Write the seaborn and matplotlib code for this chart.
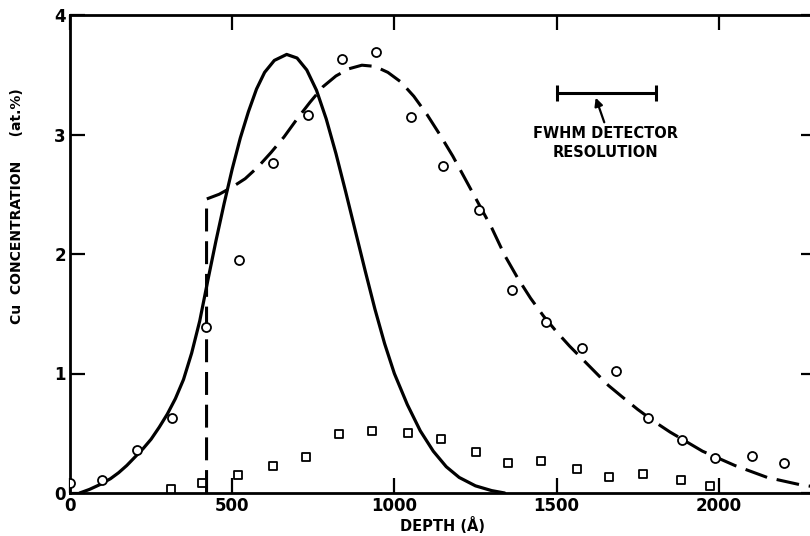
"""
Cu depth profile: measured points and fitted profiles
"""

import pandas as pd
import seaborn as sns
import matplotlib.pyplot as plt

# open circles
circle_depth = [0, 100, 206, 315, 420, 522, 627, 734, 839, 943, 1051, 1150,
                1261, 1364, 1467, 1578, 1684, 1782, 1886, 1990, 2103, 2200]
circle_conc = [0.08, 0.11, 0.36, 0.63, 1.39, 1.95, 2.76, 3.16, 3.63, 3.69, 3.15, 2.74,
               2.37, 1.70, 1.43, 1.21, 1.02, 0.63, 0.44, 0.29, 0.31, 0.25]

# open squares
square_depth = [311, 407, 518, 627, 727, 829, 930, 1042, 1144, 1252, 1351, 1451,
                1562, 1661, 1767, 1884, 1974]
square_conc = [0.03, 0.08, 0.15, 0.23, 0.30, 0.49, 0.52, 0.50, 0.45, 0.34, 0.25, 0.27,
               0.20, 0.13, 0.16, 0.11, 0.06]

# solid profile
solid_depth = [30, 60, 92, 125, 150, 175, 200, 225, 250, 275, 300, 325, 350, 375, 400,
               425, 450, 475, 500, 525, 550, 575, 600, 630, 668, 700, 730, 760, 790,
               820, 850, 880, 910, 940, 970, 1000, 1040, 1080, 1120, 1160, 1200, 1250,
               1300, 1340]
solid_conc = [0.0, 0.03, 0.07, 0.12, 0.17, 0.23, 0.30, 0.37, 0.45, 0.55, 0.66, 0.79,
              0.95, 1.17, 1.44, 1.78, 2.11, 2.42, 2.71, 2.97, 3.19, 3.38, 3.52, 3.62,
              3.67, 3.64, 3.54, 3.37, 3.13, 2.84, 2.52, 2.19, 1.86, 1.54, 1.25, 1.00,
              0.74, 0.52, 0.35, 0.22, 0.13, 0.06, 0.02, 0.0]

# dashed profile
dashed_depth = [421, 421, 460, 500, 540, 580, 620, 660, 700, 740, 780, 820, 860, 900,
                940, 980, 1020, 1060, 1100, 1140, 1180, 1220, 1260, 1300, 1340, 1380,
                1420, 1460, 1500, 1540, 1580, 1620, 1660, 1700, 1750, 1800, 1850, 1900,
                1950, 2000, 2050, 2100, 2150, 2200, 2250, 2300]
dashed_conc = [0.0, 2.46, 2.50, 2.56, 2.63, 2.73, 2.85, 2.98, 3.13, 3.27, 3.40, 3.49,
               3.55, 3.58, 3.57, 3.52, 3.44, 3.32, 3.17, 3.00, 2.82, 2.62, 2.42, 2.22,
               1.99, 1.80, 1.63, 1.48, 1.35, 1.23, 1.12, 1.01, 0.90, 0.81, 0.70, 0.60,
               0.51, 0.43, 0.35, 0.29, 0.23, 0.18, 0.13, 0.10, 0.07, 0.05]

fwhm_x = [1500, 1806]
fwhm_y = 3.35

x_ticks = [0, 500, 1000, 1500, 2000]
y_ticks = [0, 1, 2, 3, 4]

FONT = ["Liberation Sans Narrow", "DejaVu Sans"]

sns.set_style("ticks")
plt.rcParams["font.family"] = FONT
for key in ["text.color", "axes.labelcolor", "xtick.color", "ytick.color",
            "axes.edgecolor"]:
    plt.rcParams[key] = "black"

fig = plt.figure(figsize=(8.1, 5.36), dpi=100)
ax = fig.add_axes([70 / 810, 43 / 536, 746 / 810, 478 / 536])

solid = pd.DataFrame({"depth": solid_depth, "conc": solid_conc})
dashed = pd.DataFrame({"depth": dashed_depth, "conc": dashed_conc})
circles = pd.DataFrame({"depth": circle_depth, "conc": circle_conc})
squares = pd.DataFrame({"depth": square_depth, "conc": square_conc})

sns.lineplot(data=solid, x="depth", y="conc", ax=ax, color="black", lw=2.3,
             estimator=None, sort=False)
sns.lineplot(data=dashed, x="depth", y="conc", ax=ax, color="black", lw=2.2,
             estimator=None, sort=False, linestyle=(0, (7.5, 3.2)))
sns.scatterplot(data=circles, x="depth", y="conc", ax=ax, marker="o", s=42,
                facecolor="white", edgecolor="black", linewidth=1.3, zorder=3)
sns.scatterplot(data=squares, x="depth", y="conc", ax=ax, marker="s", s=36,
                facecolor="white", edgecolor="black", linewidth=1.3, zorder=3)

# detector resolution bar
xc = (fwhm_x[0] + fwhm_x[1]) / 2
ax.errorbar(xc, fwhm_y, xerr=(fwhm_x[1] - fwhm_x[0]) / 2, fmt="none", ecolor="black",
            elinewidth=2.2, capsize=6, capthick=2.2)
ax.annotate("", xy=(1618, 3.33), xytext=(1650, 3.08),
            arrowprops=dict(arrowstyle="-|>", lw=1.6, color="black", mutation_scale=12))
ax.text(1652, 2.93, "FWHM DETECTOR\nRESOLUTION", ha="center", va="center",
        fontsize=10.5, fontweight="bold", linespacing=1.3, family=FONT)

ax.set_xlim(0, 2300)
ax.set_ylim(0, 4)
ax.set_xticks(x_ticks)
ax.set_yticks(y_ticks)
ax.tick_params(direction="in", length=11, width=1.6, top=True, right=True,
               labelsize=12, pad=3)
for lab in ax.get_xticklabels() + ax.get_yticklabels():
    lab.set_fontweight("bold")
for s in ax.spines.values():
    s.set_linewidth(2.0)

ax.set_xlabel("DEPTH (Å)", fontsize=10.5, fontweight="bold", labelpad=1)
ax.set_ylabel("Cu  CONCENTRATION     (at.%)", fontsize=10, fontweight="bold")
ax.yaxis.set_label_coords(-0.062, 0.6)

plt.savefig("out.png", dpi=100)
